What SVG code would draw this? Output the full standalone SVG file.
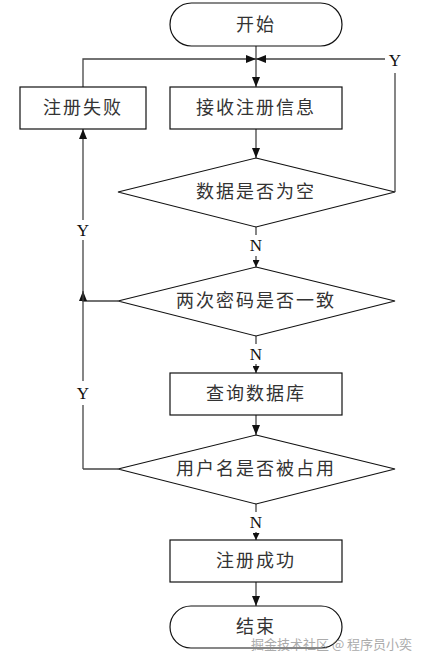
<svg xmlns="http://www.w3.org/2000/svg" width="434" height="666" viewBox="0 0 434 666">
<defs>
<marker id="ah" markerWidth="10" markerHeight="8" refX="10" refY="4" orient="auto" markerUnits="userSpaceOnUse"><path d="M0,0 L10,4 L0,8 Z" fill="#111"/></marker>
<marker id="as" markerWidth="7" markerHeight="7" refX="7" refY="3.5" orient="auto" markerUnits="userSpaceOnUse"><path d="M0,0 L7,3.5 L0,7 Z" fill="#111"/></marker>
</defs>
<style>
.n{fill:#fff;stroke:#111;stroke-width:1.2}
.t{font-family:"Liberation Serif","Noto Sans CJK SC",serif;font-size:18px;letter-spacing:2px;fill:#333;text-anchor:middle;dominant-baseline:central}
.l{font-family:"Liberation Serif",serif;font-size:17px;fill:#111;text-anchor:middle;dominant-baseline:central}
.c{fill:none;stroke:#444;stroke-width:1.3}
.w{font-family:"Noto Sans CJK SC",sans-serif;font-size:13px;fill:#888;opacity:0.7}
</style>
<rect width="434" height="666" fill="#fff"/>
<g id="connectors">
<path class="c" d="M256,46 V87" marker-end="url(#ah)"/>
<path class="c" d="M83,87 V59 H256" marker-end="url(#ah)"/>
<path class="c" d="M395,192 V73"/>
<path class="c" d="M385,59 H256" marker-end="url(#ah)"/>
<path class="c" d="M256,129 V158" marker-end="url(#ah)"/>
<path class="c" d="M256,227 V235"/>
<path class="c" d="M256,256 V267" marker-end="url(#as)"/>
<path class="c" d="M118,301 H83 V291" marker-end="url(#ah)"/>
<path class="c" d="M83,469 V405"/>
<path class="c" d="M83,381 V240"/>
<path class="c" d="M83,220 V129" marker-end="url(#ah)"/>
<path class="c" d="M118,469 H83"/>
<path class="c" d="M256,336 V344"/>
<path class="c" d="M256,364 V373" marker-end="url(#as)"/>
<path class="c" d="M256,415 V435" marker-end="url(#ah)"/>
<path class="c" d="M256,504 V512"/>
<path class="c" d="M256,532 V540" marker-end="url(#as)"/>
<path class="c" d="M256,582 V606" marker-end="url(#ah)"/>
<text class="l" x="395" y="60">Y</text>
<text class="l" x="83" y="230">Y</text>
<text class="l" x="83" y="393">Y</text>
<text class="l" x="256" y="245">N</text>
<text class="l" x="256" y="354">N</text>
<text class="l" x="256" y="522">N</text>
</g>
<g id="start"><rect class="n" x="170" y="3" width="172" height="43" rx="21.5"/><text class="t" x="256" y="25">开始</text></g>
<g id="recv"><rect class="n" x="170" y="87" width="172" height="42"/><text class="t" x="256" y="108">接收注册信息</text></g>
<g id="fail"><rect class="n" x="20" y="87" width="126" height="42"/><text class="t" x="83" y="108">注册失败</text></g>
<g id="d1"><polygon class="n" points="256,158 395,192 256,227 118,192"/><text class="t" x="256" y="192">数据是否为空</text></g>
<g id="d2"><polygon class="n" points="256,267 395,301 256,336 118,301"/><text class="t" x="256" y="301">两次密码是否一致</text></g>
<g id="query"><rect class="n" x="170" y="373" width="172" height="42"/><text class="t" x="256" y="394">查询数据库</text></g>
<g id="d3"><polygon class="n" points="256,435 395,469 256,504 118,469"/><text class="t" x="256" y="469">用户名是否被占用</text></g>
<g id="ok"><rect class="n" x="170" y="540" width="172" height="42"/><text class="t" x="256" y="561">注册成功</text></g>
<g id="end"><rect class="n" x="170" y="606" width="172" height="42" rx="21"/><text class="t" x="256" y="627">结束</text></g>
<text class="w" x="251" y="649">掘金技术社区 @ 程序员小奕</text>
</svg>
